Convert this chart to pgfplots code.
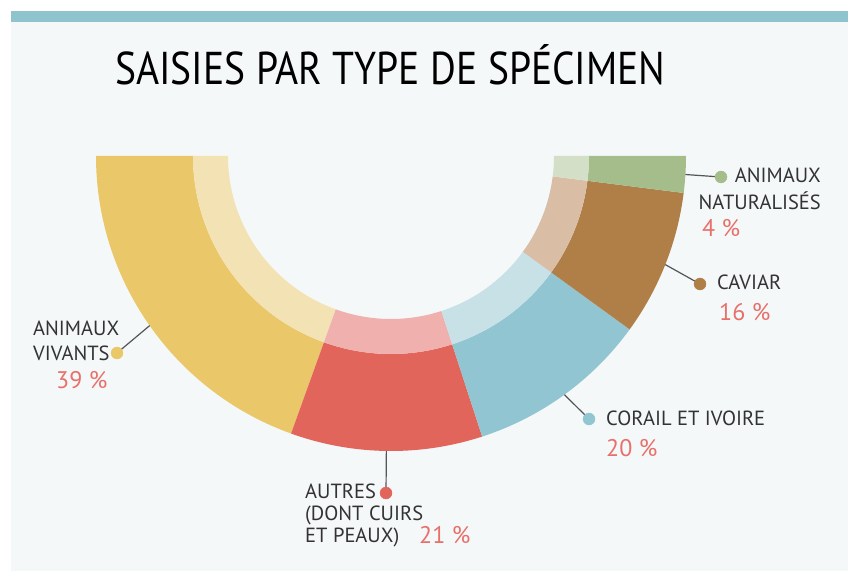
\documentclass[border=0pt]{standalone}
\usepackage{pgfplots}
\usepackage{pgfplotstable}
\pgfplotsset{compat=1.18}
\usepackage{fontspec}
\setmainfont{PT Sans}
\newfontfamily\titlefont[FakeStretch=0.86]{PT Sans}
\definecolor{bg}{HTML}{F4F8F9}
\definecolor{stripe}{HTML}{8FC4CF}
\definecolor{yD}{HTML}{EAC86A}
\definecolor{yL}{HTML}{F3E3B4}
\definecolor{rD}{HTML}{E2655C}
\definecolor{rL}{HTML}{EFB0AE}
\definecolor{bD}{HTML}{92C5D2}
\definecolor{bL}{HTML}{C8E1E7}
\definecolor{cD}{HTML}{B07F48}
\definecolor{cL}{HTML}{D9BDA5}
\definecolor{gD}{HTML}{A5BC8B}
\definecolor{gL}{HTML}{D3DFC6}
\definecolor{txt}{HTML}{333333}
\definecolor{pct}{HTML}{E8706A}
\definecolor{linec}{HTML}{555555}

\pgfplotstableread{
value dotx doty dark light
39 117 218 yD yL
21 386 78 rD rL
20 589 152 bD bL
16 700 287 cD cL
4 721 394 gD gL
}\slices

\begin{document}
\begin{tikzpicture}
\begin{axis}[
  x=1pt, y=1pt, scale only axis,
  xmin=0, xmax=856, ymin=0, ymax=571,
  axis lines=none, clip=false,
]
\fill[white] (axis cs:0,0) rectangle (axis cs:856,571);
\fill[bg] (axis cs:11,0) rectangle (axis cs:848,560);
\fill[stripe] (axis cs:11,549) rectangle (axis cs:848,560);

\pgfmathsetmacro{\cum}{0}
\pgfplotsforeachungrouped \i in {0,...,4}{%
  \pgfplotstablegetelem{\i}{value}\of\slices \let\v\pgfplotsretval
  \pgfplotstablegetelem{\i}{dark}\of\slices \let\dk\pgfplotsretval
  \pgfplotstablegetelem{\i}{light}\of\slices \let\lt\pgfplotsretval
  \pgfplotstablegetelem{\i}{dotx}\of\slices \let\dx\pgfplotsretval
  \pgfplotstablegetelem{\i}{doty}\of\slices \let\dy\pgfplotsretval
  \pgfmathsetmacro{\a}{180+1.8*\cum}%
  \pgfmathsetmacro{\b}{180+1.8*(\cum+\v)}%
  \pgfmathsetmacro{\m}{(\a+\b)/2}%
  \edef\temp{%
    \noexpand\fill[\dk] (axis cs:391,415) ++(\a:295) arc[start angle=\a, end angle=\b, radius=295] -- ++(\b:-97) arc[start angle=\b, end angle=\a, radius=198] -- cycle;
    \noexpand\fill[\lt] (axis cs:391,415) ++(\a:198) arc[start angle=\a, end angle=\b, radius=198] -- ++(\b:-35) arc[start angle=\b, end angle=\a, radius=163] -- cycle;
    \noexpand\draw[linec, line width=1.2pt] (axis cs:391,415) ++(\m:295) -- (axis cs:\dx,\dy);
  }\temp
  \pgfmathsetmacro{\cum}{\cum+\v}%
}

\addplot[only marks, mark=*, mark size=6pt, color=yD] coordinates {(117,218)};
\addplot[only marks, mark=*, mark size=6pt, color=rD] coordinates {(386,78)};
\addplot[only marks, mark=*, mark size=6pt, color=bD] coordinates {(589,152)};
\addplot[only marks, mark=*, mark size=6pt, color=cD] coordinates {(700,287)};
\addplot[only marks, mark=*, mark size=6pt, color=gD] coordinates {(721,394)};

\node[anchor=base west, inner sep=0pt, text=black] at (axis cs:115,486) {\titlefont\fontsize{46}{50}\selectfont SAISIES PAR TYPE DE SPÉCIMEN};

\begin{scope}[every node/.style={inner sep=0pt, text=txt, font=\fontsize{20.5}{22}\selectfont}]
\node[anchor=base west] at (axis cs:33,236) {ANIMAUX};
\node[anchor=base west] at (axis cs:33,211) {VIVANTS};
\node[anchor=base west] at (axis cs:305,73) {AUTRES};
\node[anchor=base west] at (axis cs:305,51) {(DONT CUIRS};
\node[anchor=base west] at (axis cs:305,29) {ET PEAUX)};
\node[anchor=base west] at (axis cs:606,146) {CORAIL ET IVOIRE};
\node[anchor=base west] at (axis cs:717,282) {CAVIAR};
\node[anchor=base east] at (axis cs:821,388) {ANIMAUX};
\node[anchor=base east] at (axis cs:821,361) {NATURALISÉS};
\end{scope}
\begin{scope}[every node/.style={inner sep=0pt, text=pct, font=\fontsize{24}{26}\selectfont}]
\node[anchor=base west] at (axis cs:56,183) {39 \%};
\node[anchor=base west] at (axis cs:419,28) {21 \%};
\node[anchor=base west] at (axis cs:606,115) {20 \%};
\node[anchor=base west] at (axis cs:719,251) {16 \%};
\node[anchor=base west] at (axis cs:702,334) {4 \%};
\end{scope}
\end{axis}
\end{tikzpicture}
\end{document}
